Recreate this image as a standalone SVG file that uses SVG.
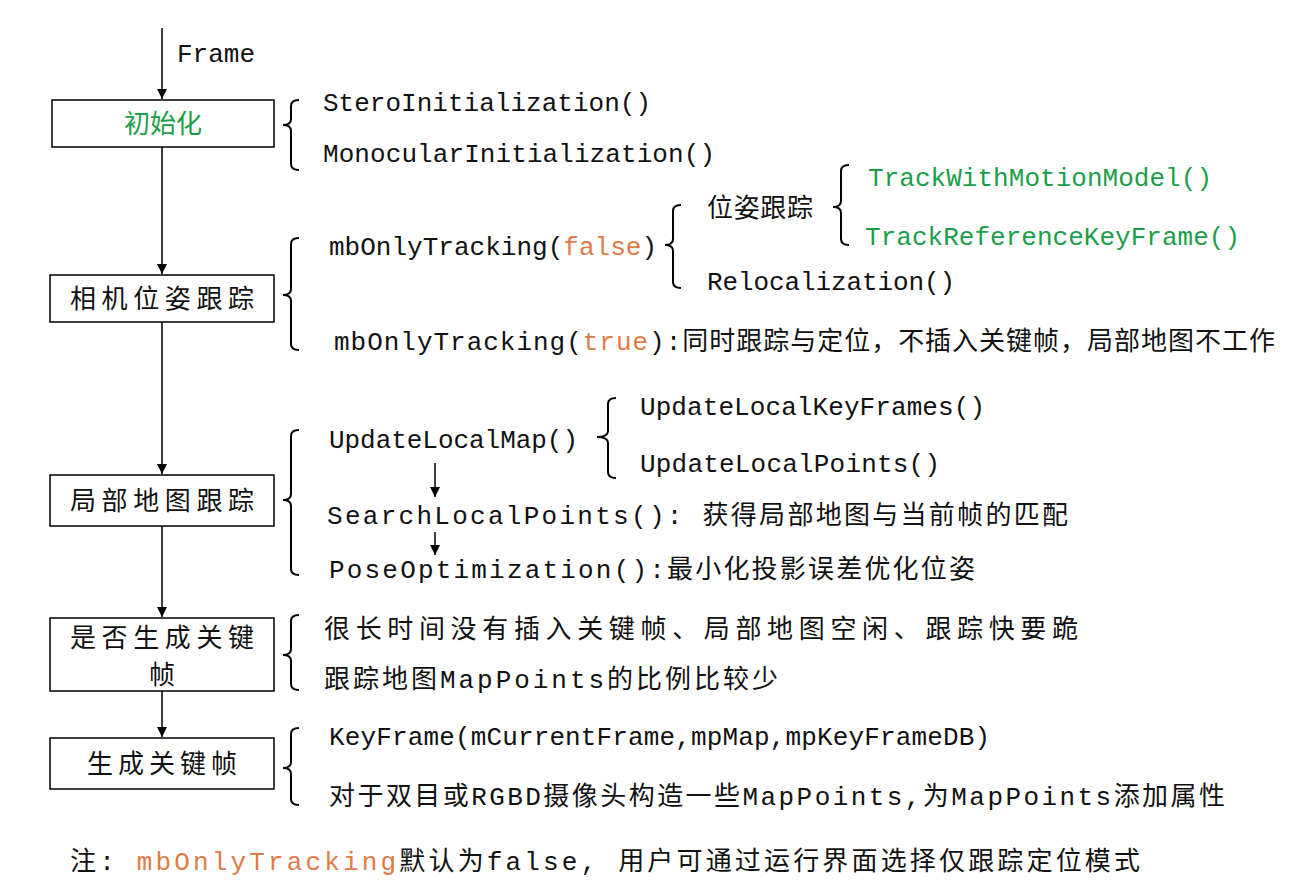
<svg xmlns="http://www.w3.org/2000/svg" width="1289" height="891" viewBox="0 0 1289 891">
<defs>
<marker id="ah" viewBox="0 0 10 10" refX="10" refY="5" markerWidth="10" markerHeight="10" markerUnits="userSpaceOnUse" orient="auto"><path d="M0,0 L10,5 L0,10 z" fill="#000"/></marker>
<style>
text{font-family:"Liberation Mono","Noto Sans CJK SC",monospace;font-size:26px;fill:#111}
.g{fill:#1a9e4a}.o{fill:#e07b45}
.box{fill:#fff;stroke:#000;stroke-width:1.5}
.br{fill:none;stroke:#000;stroke-width:2}
.ln{stroke:#000;stroke-width:1.5;fill:none}
</style>
</defs>
<rect width="1289" height="891" fill="#fff"/>
<g id="connectors">
<line class="ln" x1="162" y1="28" x2="162" y2="99" marker-end="url(#ah)"/>
<line class="ln" x1="162" y1="147" x2="162" y2="274" marker-end="url(#ah)"/>
<line class="ln" x1="162" y1="322" x2="162" y2="474" marker-end="url(#ah)"/>
<line class="ln" x1="162" y1="526" x2="162" y2="617" marker-end="url(#ah)"/>
<line class="ln" x1="162" y1="691" x2="162" y2="737" marker-end="url(#ah)"/>
<line class="ln" x1="435" y1="463" x2="435" y2="497" marker-end="url(#ah)"/>
<line class="ln" x1="435" y1="532" x2="435" y2="555" marker-end="url(#ah)"/>
<path class="br" d="M299,100 Q291,100 291,106 V119 Q291,125 283,125 Q291,125 291,131 V164 Q291,170 299,170"/>
<path class="br" d="M299,238 Q291,238 291,244 V289 Q291,295 283,295 Q291,295 291,301 V344 Q291,350 299,350"/>
<path class="br" d="M681,205 Q673,205 673,211 V239 Q673,245 665,245 Q673,245 673,251 V282 Q673,288 681,288"/>
<path class="br" d="M849,165 Q841,165 841,171 V201 Q841,207 833,207 Q841,207 841,213 V239 Q841,245 849,245"/>
<path class="br" d="M299,430 Q291,430 291,436 V494 Q291,500 283,500 Q291,500 291,506 V569 Q291,575 299,575"/>
<path class="br" d="M616,398 Q608,398 608,404 V431 Q608,437 597,437 Q608,437 608,443 V472 Q608,478 616,478"/>
<path class="br" d="M299,615 Q291,615 291,621 V649 Q291,655 283,655 Q291,655 291,661 V684 Q291,690 299,690"/>
<path class="br" d="M299,728 Q291,728 291,734 V762 Q291,768 283,768 Q291,768 291,774 V799 Q291,805 299,805"/>
</g>
<g id="n1"><rect class="box" x="52" y="100" width="222" height="47"/><text class="g" x="163" y="133" text-anchor="middle">初始化</text></g>
<g id="n2"><rect class="box" x="50" y="275" width="224" height="47"/><text x="162" y="308" text-anchor="middle" textLength="184">相机位姿跟踪</text></g>
<g id="n3"><rect class="box" x="50" y="475" width="224" height="51"/><text x="162" y="510" text-anchor="middle" textLength="184">局部地图跟踪</text></g>
<g id="n4"><rect class="box" x="50" y="618" width="224" height="73"/><text x="162" y="647" text-anchor="middle" textLength="184">是否生成关键</text><text x="162" y="684" text-anchor="middle">帧</text></g>
<g id="n5"><rect class="box" x="50" y="738" width="224" height="51"/><text x="162" y="773" text-anchor="middle" textLength="150">生成关键帧</text></g>
<g id="labels">
<text x="177" y="62">Frame</text>
<text x="323" y="111" textLength="328">SteroInitialization()</text>
<text x="323" y="162" textLength="392">MonocularInitialization()</text>
<text class="g" x="868" y="186" textLength="344">TrackWithMotionModel()</text>
<text class="g" x="865" y="245" textLength="375">TrackReferenceKeyFrame()</text>
<text x="707" y="217" textLength="106">位姿跟踪</text>
<text x="329" y="255" textLength="328">mbOnlyTracking(<tspan class="o">false</tspan>)</text>
<text x="707" y="290" textLength="248">Relocalization()</text>
<text x="334" y="350" textLength="941">mbOnlyTracking(<tspan class="o">true</tspan>):同时跟踪与定位，不插入关键帧，局部地图不工作</text>
<text x="640" y="415" textLength="345">UpdateLocalKeyFrames()</text>
<text x="329" y="448" textLength="249">UpdateLocalMap()</text>
<text x="640" y="472" textLength="300">UpdateLocalPoints()</text>
<text x="327" y="524" textLength="741">SearchLocalPoints(): 获得局部地图与当前帧的匹配</text>
<text x="329" y="578" textLength="646">PoseOptimization():最小化投影误差优化位姿</text>
<text x="324" y="638" textLength="754">很长时间没有插入关键帧、局部地图空闲、跟踪快要跪</text>
<text x="324" y="688" textLength="454">跟踪地图MapPoints的比例比较少</text>
<text x="329" y="745" textLength="661">KeyFrame(mCurrentFrame,mpMap,mpKeyFrameDB)</text>
<text x="329" y="805" textLength="896">对于双目或RGBD摄像头构造一些MapPoints,为MapPoints添加属性</text>
<text x="70" y="870" textLength="1070">注:  <tspan class="o">mbOnlyTracking</tspan>默认为false, 用户可通过运行界面选择仅跟踪定位模式</text>
</g>
</svg>
